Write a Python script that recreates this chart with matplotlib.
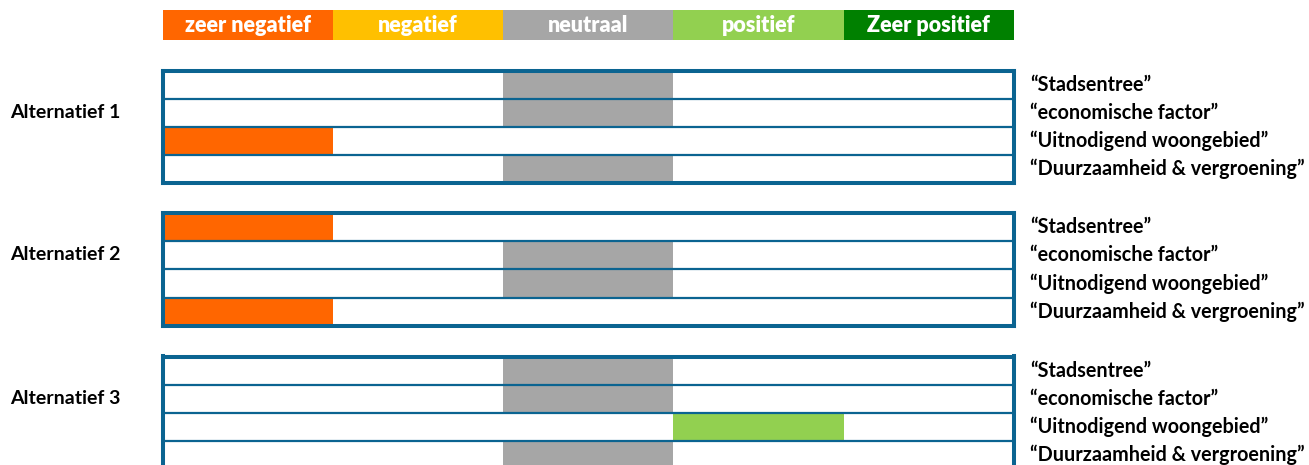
import matplotlib
matplotlib.use('Agg')
from matplotlib import pyplot as plt

plt.rcParams['font.family'] = ['Lato', 'DejaVu Sans']

# scale levels
levels = ['zeer negatief', 'negatief', 'neutraal', 'positief', 'Zeer positief']
level_colors = ['#FF6600', '#FFC000', '#A6A6A6', '#92D050', '#008000']

criteria = ['\u201cStadsentree\u201d', '\u201ceconomische factor\u201d',
            '\u201cUitnodigend woongebied\u201d', '\u201cDuurzaamheid & vergroening\u201d']

alternatives = ['Alternatief 1', 'Alternatief 2', 'Alternatief 3']
# score index per criterion (0 = zeer negatief ... 4 = zeer positief)
alt1_scores = [2, 2, 0, 2]
alt2_scores = [0, 2, 2, 0]
alt3_scores = [2, 2, 3, 2]
all_scores = [alt1_scores, alt2_scores, alt3_scores]

border = '#0B6491'
W, H = 1309, 465

fig = plt.figure(figsize=(W / 100, H / 100), dpi=100)
fig.patch.set_facecolor('white')

x_left, x_right = 162.5, 1014


def px_axes(top, bottom):
    return fig.add_axes([x_left / W, 1 - bottom / H, (x_right - x_left) / W, (bottom - top) / H])


# header legend
hax = px_axes(10, 40)
hax.barh(0, [1] * len(levels), left=range(len(levels)), height=1,
         color=level_colors, edgecolor='none')
for i, lab in enumerate(levels):
    hax.text(i + 0.5, 0, lab, color='white', fontsize=15.5, fontweight='heavy',
             ha='center', va='center')
hax.set_xlim(0, 5)
hax.set_ylim(-0.5, 0.5)
hax.axis('off')

# groups: (top, bottom) in pixels
groups = [(71, 183), (213, 326), (356.5, 469)]

for (top, bottom), name, scores in zip(groups, alternatives, all_scores):
    ax = px_axes(top, bottom)
    ax.barh(range(len(scores)), [1] * len(scores), left=scores, height=1,
            color=[level_colors[s] for s in scores], edgecolor='none', zorder=1)
    for k in range(1, len(scores)):
        ax.axhline(k - 0.5, color=border, lw=1.6, zorder=2)
    ax.set_xlim(0, 5)
    ax.set_ylim(len(scores) - 0.5, -0.5)
    ax.set_xticks([])
    ax.set_yticks([])
    for sp in ax.spines.values():
        sp.set_color(border)
        sp.set_linewidth(2.9)
        sp.set_zorder(3)

    # group name sits a little above the middle of the box
    cy = top + 41.5
    fig.text(10 / W, 1 - cy / H, name, fontsize=14, fontweight='bold',
             ha='left', va='center')
    for i, crit in enumerate(criteria):
        ax.annotate(crit, xy=(1, i), xycoords=('axes fraction', 'data'),
                    xytext=(16, 0), textcoords='offset pixels',
                    fontsize=14.2, fontweight='bold', ha='left', va='center',
                    annotation_clip=False)

fig.savefig('out.png', dpi=100)
